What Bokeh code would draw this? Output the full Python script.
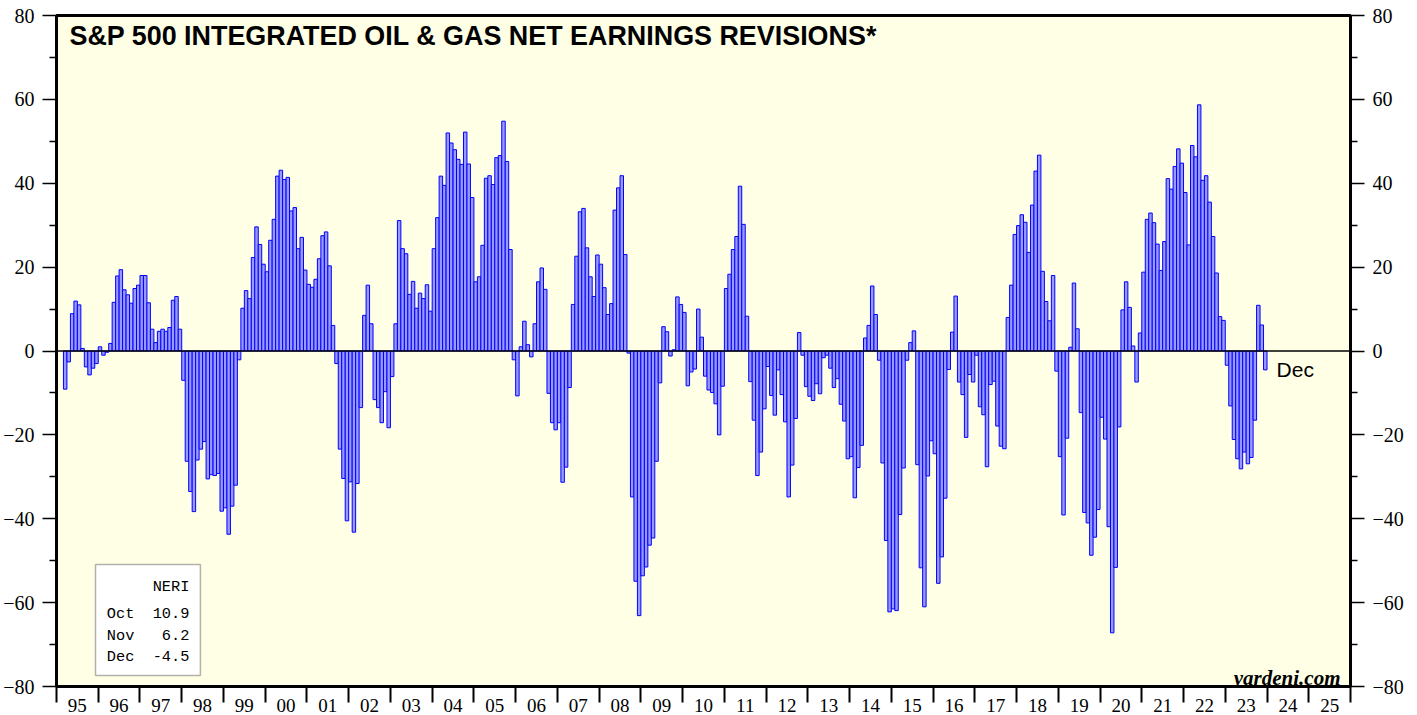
from bokeh.plotting import figure
from bokeh.models import Range1d, FixedTicker, LinearAxis, Span, BoxAnnotation
from bokeh.core.properties import value
from bokeh.embed import file_html
from bokeh.resources import INLINE

# Monthly net earnings revisions (%), Mar 1995 .. Dec 2023
neri_1995 = [-9.1, -2.6, 8.9, 11.9, 11.0, 0.6, -3.8, -5.7, -4.1, -3.0]  # Mar-Dec
neri_1996 = [1.0, -1.0, -0.3, 1.8, 11.6, 17.9, 19.4, 14.6, 13.4, 11.4, 14.9, 15.7]
neri_1997 = [18.0, 18.0, 11.5, 5.2, 2.0, 4.7, 5.2, 4.7, 5.6, 12.1, 13.0, 5.2]
neri_1998 = [-7.0, -26.3, -33.5, -38.3, -26.0, -23.4, -21.6, -30.5, -29.5, -29.7, -29.2, -38.2]
neri_1999 = [-37.4, -43.7, -37.0, -32.0, -2.1, 10.2, 14.4, 12.5, 22.3, 29.6, 25.4, 20.7]
neri_2000 = [18.9, 26.4, 31.4, 41.7, 43.1, 40.9, 41.4, 33.4, 34.2, 24.4, 27.1, 19.3]
neri_2001 = [15.9, 15.2, 17.1, 22.0, 27.5, 28.4, 20.3, 6.1, -3.0, -23.4, -30.4, -40.5]
neri_2002 = [-31.2, -43.2, -31.6, -13.5, 8.5, 15.7, 6.5, -11.6, -13.5, -17.1, -9.7, -18.3]
neri_2003 = [-6.1, 6.5, 31.1, 24.4, 23.2, 13.5, 16.6, 10.2, 13.8, 12.5, 15.8, 9.5]
neri_2004 = [24.4, 31.8, 41.7, 39.5, 52.0, 49.6, 48.0, 45.7, 44.5, 52.2, 44.6, 36.6]
neri_2005 = [16.5, 17.7, 25.2, 41.2, 41.8, 39.7, 46.1, 46.6, 54.8, 45.2, 24.2, -2.1]
neri_2006 = [-10.7, 1.0, 7.1, 1.5, -1.4, 6.5, 16.5, 19.8, 14.7, -10.1, -17.1, -18.8]
neri_2007 = [-17.1, -31.3, -27.7, -8.7, 11.1, 22.6, 33.2, 34.0, 24.6, 17.7, 13.0, 22.9]
neri_2008 = [20.7, 15.1, 8.7, 11.3, 33.6, 38.9, 41.8, 23.0, -0.5, -34.8, -54.9, -63.1]
neri_2009 = [-53.6, -51.5, -46.3, -44.6, -26.3, -7.6, 5.8, 4.6, -1.2, 0.3, 12.9, 11.1]
neri_2010 = [9.2, -8.3, -5.0, -4.3, 10.0, 3.3, -6.0, -9.3, -9.9, -12.6, -20.0, -8.4]
neri_2011 = [14.9, 18.3, 24.2, 27.3, 39.3, 30.2, 8.3, -7.3, -16.5, -29.7, -24.1, -13.8]
neri_2012 = [-3.7, -10.6, -15.3, -4.5, -10.4, -16.9, -34.8, -27.2, -16.1, 4.4, -1.0, -8.5]
neri_2013 = [-10.8, -11.8, -7.8, -10.2, -1.6, -1.0, -4.1, -8.7, -6.6, -12.7, -16.7, -25.7]
neri_2014 = [-25.2, -35.0, -27.8, -22.5, 3.1, 6.1, 15.5, 8.7, -2.2, -26.7, -45.2, -62.2]
neri_2015 = [-61.5, -61.9, -39.0, -27.9, -2.2, 2.0, 4.8, -27.1, -51.7, -61.0, -29.8, -21.4]
neri_2016 = [-24.5, -55.4, -49.1, -35.1, -4.4, 4.5, 13.1, -7.4, -10.4, -20.6, -5.6, -7.4]
neri_2017 = [-1.0, -13.3, -15.2, -27.6, -8.0, -7.2, -17.9, -22.7, -23.3, 8.0, 15.7, 27.8]
neri_2018 = [29.9, 32.5, 30.7, 23.5, 34.8, 42.9, 46.7, 19.0, 11.8, 7.2, 18.0, -4.8]
neri_2019 = [-25.2, -39.1, -20.8, 0.9, 16.2, 5.3, -14.7, -38.5, -41.0, -48.7, -44.4, -37.8]
neri_2020 = [-15.8, -21.0, -41.9, -67.2, -51.6, -18.1, 9.8, 16.5, 10.4, 1.2, -7.4, 4.3]
neri_2021 = [18.8, 31.4, 32.9, 30.6, 25.5, 19.2, 26.1, 41.1, 38.6, 44.0, 48.2, 44.8]
neri_2022 = [37.8, 25.3, 49.0, 46.3, 58.7, 40.7, 41.8, 35.5, 27.3, 18.6, 8.2, 7.3]
neri_2023 = [-3.4, -13.1, -21.1, -25.7, -28.1, -24.1, -26.9, -25.4, -16.5, 10.9, 6.2, -4.5]

data_years = list(range(1995, 2024))
axis_years = list(range(1995, 2026))
year_labels = ["%02d" % (y % 100) for y in axis_years]
legend_months = ["Oct", "Nov", "Dec"]
y_ticks = list(range(-80, 81, 20))
y_minor = list(range(-70, 80, 20))

title_text = "S&P 500 INTEGRATED OIL & GAS NET EARNINGS REVISIONS*"
source_text = "yardeni.com"

series = [neri_1995, neri_1996, neri_1997, neri_1998, neri_1999, neri_2000, neri_2001,
          neri_2002, neri_2003, neri_2004, neri_2005, neri_2006, neri_2007, neri_2008,
          neri_2009, neri_2010, neri_2011, neri_2012, neri_2013, neri_2014, neri_2015,
          neri_2016, neri_2017, neri_2018, neri_2019, neri_2020, neri_2021, neri_2022,
          neri_2023]

xs, vals = [], []
for yr, arr in zip(data_years, series):
    first = 12 - len(arr)
    for k, v in enumerate(arr):
        xs.append(yr + (first + k) / 12 + 1 / 24)
        vals.append(v)

p = figure(width=1417, height=715,
           x_range=Range1d(1995, 2026), y_range=Range1d(-80, 80),
           output_backend="svg", toolbar_location=None,
           min_border_left=55, min_border_right=67,
           min_border_top=15, min_border_bottom=29,
           background_fill_color="#FFFFE6", border_fill_color="white",
           outline_line_color="black", outline_line_width=3)
p.xgrid.visible = False
p.ygrid.visible = False

# x axis: labels mid-year, ticks at year boundaries
mids = [y + 0.5 for y in axis_years]
bounds = [y for y in axis_years] + [axis_years[-1] + 1]
xa = p.xaxis[0]
xa.ticker = FixedTicker(ticks=mids, minor_ticks=bounds)
xa.major_label_overrides = {m: lab for m, lab in zip(mids, year_labels)}
xa.major_tick_out = 0
xa.major_tick_in = 0
xa.minor_tick_out = 16
xa.minor_tick_in = 0
xa.minor_tick_line_width = 2
xa.minor_tick_line_color = "black"
xa.axis_line_color = None
xa.major_label_standoff = -4
xa.major_label_text_font = "Liberation Serif"
xa.major_label_text_font_size = "19px"
xa.major_label_text_color = "black"

# y axes (left and right)
right_axis = LinearAxis()
p.add_layout(right_axis, "right")
for ax in p.yaxis:
    ax.ticker = FixedTicker(ticks=y_ticks, minor_ticks=y_minor)
    ax.major_tick_out = 14
    ax.major_tick_in = 0
    ax.minor_tick_out = 7
    ax.minor_tick_in = 0
    ax.major_tick_line_width = 1.5
    ax.minor_tick_line_width = 1.5
    ax.major_tick_line_color = "black"
    ax.minor_tick_line_color = "black"
    ax.axis_line_color = None
    ax.major_label_standoff = 8
    ax.major_label_text_font = "Liberation Serif"
    ax.major_label_text_font_size = "20px"
    ax.major_label_text_color = "black"

# bars
p.vbar(x=xs, top=vals, bottom=0, width=1 / 12,
       fill_color="#9999FF", line_color="#0000FF", line_width=1)

p.add_layout(Span(location=0, dimension="width", line_color="black", line_width=1.5))

# title
p.text(x=[1995.311], y=[75.0], text=[title_text],
       text_font=value("Liberation Sans"), text_font_style="bold",
       text_font_size="26.9px", text_color="black",
       text_align="left", text_baseline="middle")

# last value label
p.text(x=[xs[-1] + 0.27], y=[vals[-1]], text=[legend_months[-1]],
       text_font=value("Liberation Sans"), text_font_size="21px",
       text_color="black", text_align="left", text_baseline="middle")

# source
p.text(x=[2025.76], y=[-77.9], text=[source_text],
       text_font=value("Liberation Serif"), text_font_style="bold italic",
       text_font_size="21px", text_color="black",
       text_align="right", text_baseline="alphabetic")

# legend box
p.add_layout(BoxAnnotation(left=1995.934, right=1998.447, top=-50.9, bottom=-77.4,
                           fill_color="white", fill_alpha=1.0,
                           line_color="black", line_width=1.5, level="underlay"))
legend_lines = ["NERI"] + [("%s%6.1f" % (m, v)).replace(" ", "\u00a0")
                           for m, v in zip(legend_months, vals[-3:])]
p.text(x=[1998.184] * 4, y=[-56.3, -62.7, -68.0, -73.0], text=legend_lines,
       text_font=value("Liberation Mono"), text_font_size="15.3px",
       text_color="black", text_align="right", text_baseline="middle")

open("out.html", "w").write(file_html(p, INLINE))
